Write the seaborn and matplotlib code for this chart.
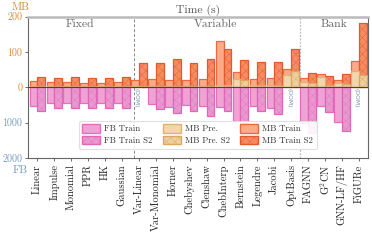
import numpy as np
import pandas as pd
import matplotlib
matplotlib.use("Agg")
import matplotlib.pyplot as plt
import seaborn as sns
from matplotlib.patches import Patch
from matplotlib.colors import to_rgba

# ---------------- data ----------------
categories = ["Linear", "Impulse", "Monomial", "PPR", "HK", "Gaussian",
              "Var-Linear", "Var-Monomial", "Horner", "Chebyshev", "Clenshaw",
              "ChebInterp", "Bernstein", "Legendre", "Jacobi", "OptBasis",
              "FAGNN", "G$^2$CN", "GNN-LF/HF", "FiGURe"]
groups = ["Fixed", "Variable", "Bank"]
group_spans = [(0, 5), (6, 15), (16, 19)]

mb_pre      = [4, 4, 4, 4, 4, 4, 5, 5, 5, 5, 5, 8, 25, 6, 6, 36, 15, 28, 12, 45]
mb_train    = [13, 11, 10, 9, 9, 10, 16, 18.5, 16, 17, 18.5, 124, 18, 18, 20, 15, 11, 10.5, 9.6, 30]
mb_pre_s2   = [4, 4, 4, 4, 4, 4, 5, 5, 5, 5, 5, 6, 21, 6, 6, 45, 12, 7.5, 10, 36]
mb_train_s2 = [25, 23, 24, 22, 23, 24, 65, 63, 74, 64, 75, 102, 57, 65, 65.5, 64, 28.5, 23.5, 28.5, 145]
fb_train    = [535, 441, 441, 441, 441, 441, np.nan, 460, 560, 500, 540, 560, 960, 520, 580, np.nan,
               1020, 540, 970, np.nan]
fb_train_s2 = [676, 582, 582, 582, 582, 582, np.nan, 600, 730, 660, 800, 680, 1040, 680, 740, np.nan,
               1280, 700, 1220, np.nan]
oom_categories = ["Var-Linear", "OptBasis", "FiGURe"]

ytick_values = [200, 100, 0, -100, -200]
ytick_labels = ["200", "100", "0", "1000", "2000"]
FB_SCALE = 10.0

# ---------------- style ----------------
sns.set_style("ticks")
plt.rcParams["font.family"] = ["cmr10", "DejaVu Serif"]
plt.rcParams["mathtext.fontset"] = "cm"
plt.rcParams["axes.unicode_minus"] = False
plt.rcParams["hatch.linewidth"] = 0.35

MB_COL = "#d98b35"
FB_COL = "#7b9bc0"
HATCH = "xxxx"

fig = plt.figure(figsize=(3.72, 2.41), dpi=100)
ax = fig.add_axes([0.0745, 0.344, 0.9145, 0.587])

styles = {
    "fb":      dict(face="#efa3d4", edge="#e46fc0", hcol=None),
    "fb_s2":   dict(face="#eb98cf", edge="#df66b8", hcol="#e07cc0"),
    "pre":     dict(face="#f2d6ad", edge="#e0b372", hcol=None),
    "pre_s2":  dict(face="#efcf9f", edge="#d9a862", hcol="#dcb071"),
    "tr":      dict(face="#fcab8a", edge="#ec693b", hcol=None),
    "tr_s2":   dict(face="#f68d62", edge="#e4582d", hcol="#e7653a"),
}


def style_patch(p, st, lw=0.9):
    p.set_facecolor(st["face"])
    p.set_edgecolor(st["edge"])
    p.set_linewidth(lw)
    if st["hcol"]:
        p.set_hatch(HATCH)
        try:
            p._hatch_color = to_rgba(st["hcol"])
        except Exception:
            pass


def draw_layer(vals_base, vals_s2, key_base, key_s2):
    df = pd.DataFrame({
        "cat": categories * 2,
        "variant": ["base"] * len(categories) + ["s2"] * len(categories),
        "val": list(vals_base) + list(vals_s2),
    })
    n_before = len(ax.containers)
    sns.barplot(data=df, x="cat", y="val", hue="variant", order=categories,
                hue_order=["base", "s2"], palette=["#888888", "#888888"],
                width=0.92, saturation=1, errorbar=None, legend=False, ax=ax)
    new = ax.containers[n_before:]
    for cont, key in zip(new, [key_base, key_s2]):
        for p in cont:
            style_patch(p, styles[key])
            p.set_zorder(2)


mb_total = [a + b for a, b in zip(mb_pre, mb_train)]
mb_total_s2 = [a + b for a, b in zip(mb_pre_s2, mb_train_s2)]
fb_neg = [-v / FB_SCALE for v in fb_train]
fb_neg_s2 = [-v / FB_SCALE for v in fb_train_s2]

draw_layer(mb_total, mb_total_s2, "tr", "tr_s2")
draw_layer(mb_pre, mb_pre_s2, "pre", "pre_s2")
draw_layer(fb_neg, fb_neg_s2, "fb", "fb_s2")

ax.axhline(0, color="#444444", lw=0.8, zorder=3)

ax.set_xlim(-0.57, 19.53)
ax.set_ylim(-200, 200)
ax.set_xlabel("")
ax.set_ylabel("")

# x ticks
ax.set_xticks(range(len(categories)))
ax.set_xticklabels(categories, rotation=90, fontsize=7.6, color="#222222")
ax.tick_params(axis="x", length=2.5, width=0.6, color="#555555", pad=2)

# y ticks
ax.set_yticks(ytick_values)
ax.set_yticklabels(ytick_labels, fontsize=7.2)
for lab, v in zip(ax.get_yticklabels(), ytick_values):
    lab.set_color(MB_COL if v >= 0 else FB_COL)
ax.tick_params(axis="y", length=2.5, width=0.6, color="#555555", pad=1.5)

# spines
for s in ["left", "bottom", "right"]:
    ax.spines[s].set_color("#666666")
    ax.spines[s].set_linewidth(0.8)
ax.spines["top"].set_color("#bbbbbb")
ax.spines["top"].set_linewidth(1.8)

# separators
ax.axvline(5.72, color="#888888", lw=0.7, ls=(0, (3, 2)), zorder=1)
ax.axvline(15.52, color="#bbbbbb", lw=0.9, ls=(0, (1.5, 1.2)), zorder=1)

# group labels
for g, (a, b) in zip(groups, group_spans):
    ax.text((a + b) / 2, 179, g, ha="center", va="center", fontsize=8.4, color="#666666")

ax.set_title("Time (s)", fontsize=8.4, color="#555555", pad=2.5)

# OOM labels
for c in oom_categories:
    i = categories.index(c)
    ax.text(i - 0.16, -28, "(OOM)", rotation=270, ha="center", va="center",
            fontsize=4.3, color="#6f8fb3", family="DejaVu Sans")

# unit labels
fig.text(0.055, 0.968, "MB", ha="center", va="center", fontsize=8, color=MB_COL)
fig.text(0.055, 0.295, "FB", ha="center", va="center", fontsize=8, color=FB_COL)

# legend
def hpatch(key, label):
    st = styles[key]
    p = Patch(facecolor=st["face"], edgecolor=st["edge"], label=label,
              hatch=HATCH if st["hcol"] else None)
    if st["hcol"]:
        try:
            p._hatch_color = to_rgba(st["hcol"])
        except Exception:
            pass
    return p

handles = [hpatch("fb", "FB Train"), hpatch("fb_s2", "FB Train S2"),
           hpatch("pre", "MB Pre."), hpatch("pre_s2", "MB Pre. S2"),
           hpatch("tr", "MB Train"), hpatch("tr_s2", "MB Train S2")]
leg = ax.legend(handles=handles, ncol=3, loc="lower center", bbox_to_anchor=(0.5, 0.035),
                fontsize=6.3, frameon=True, fancybox=True, framealpha=0.9,
                handlelength=2.0, handleheight=1.1, columnspacing=1.2,
                labelspacing=0.3, borderpad=0.4, handletextpad=0.5)
leg.get_frame().set_edgecolor("#dddddd")
leg.get_frame().set_linewidth(0.8)
for t in leg.get_texts():
    t.set_color("#333333")
leg.set_zorder(5)

fig.savefig("out.png", dpi=100)
